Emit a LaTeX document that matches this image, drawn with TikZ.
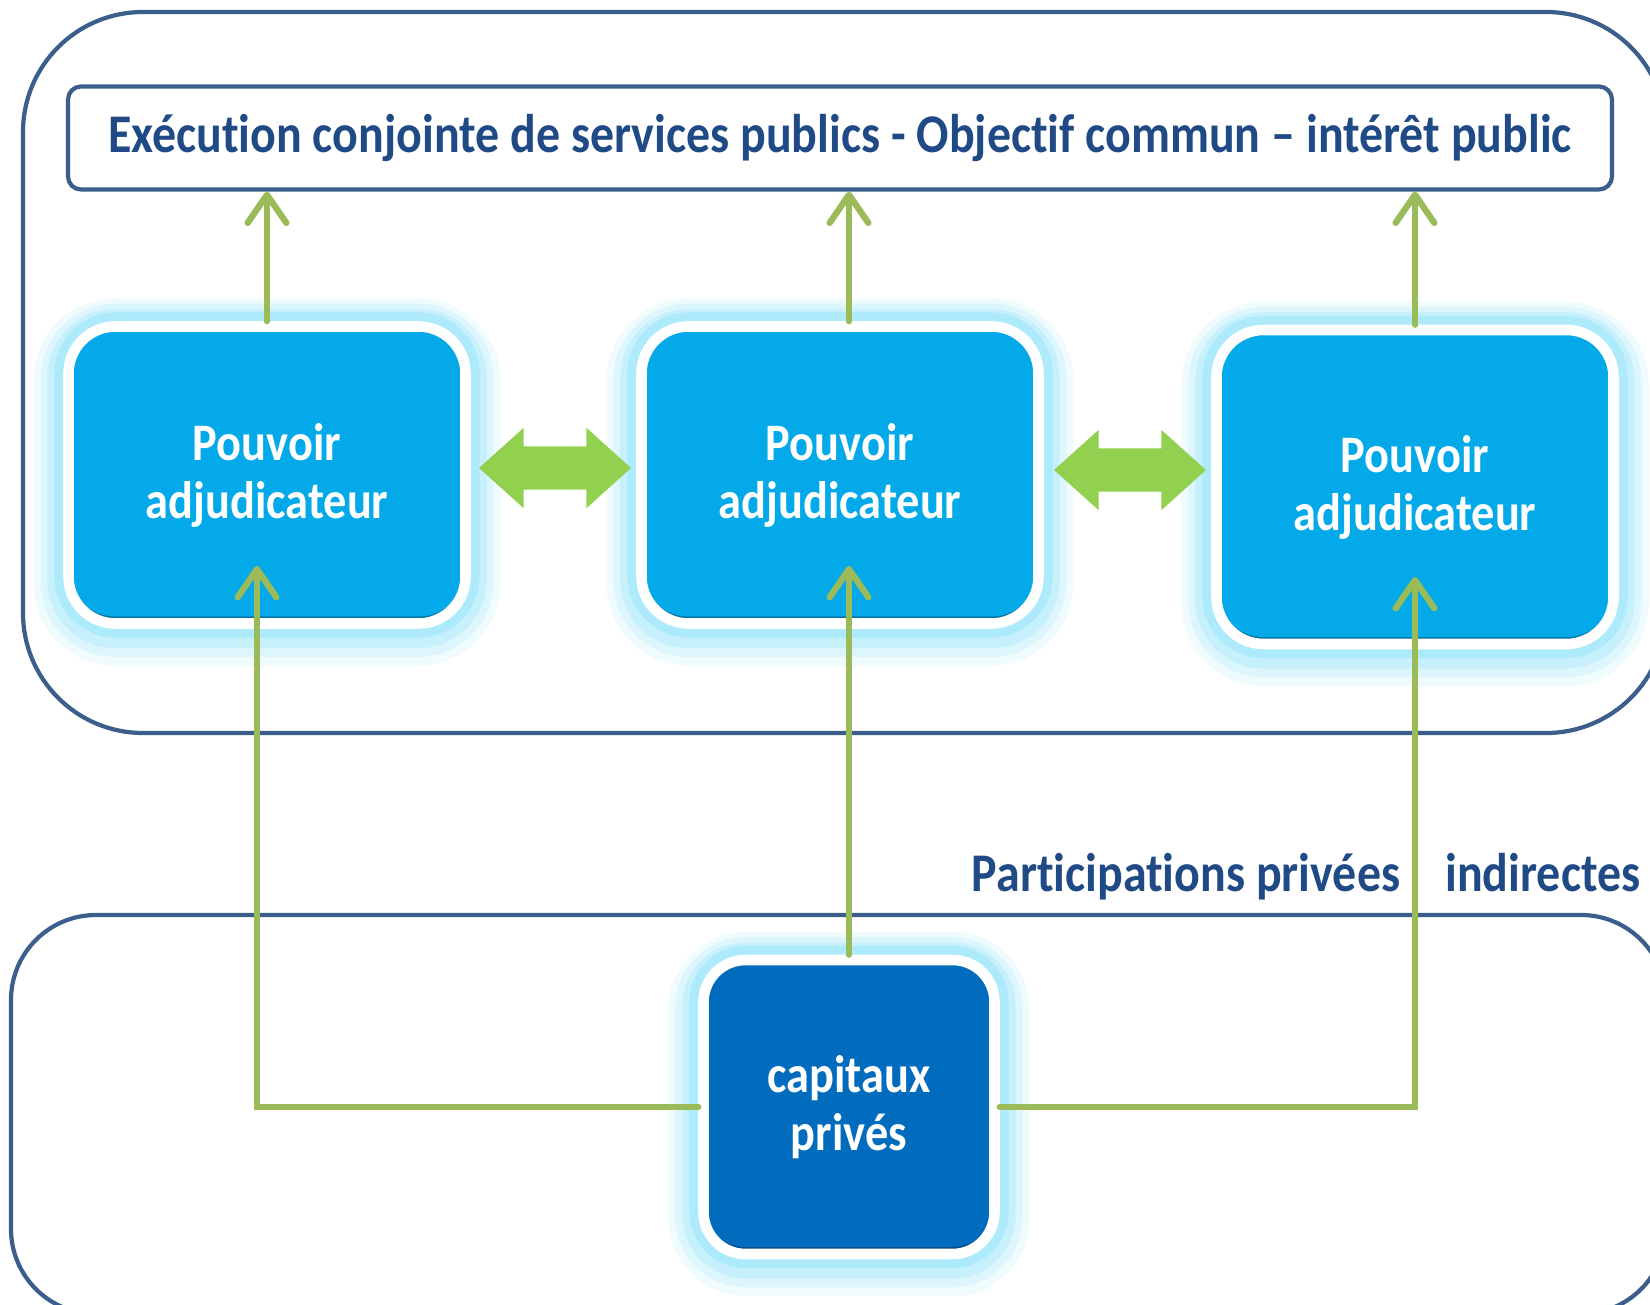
\documentclass[tikz,border=0pt]{standalone}
\usepackage{fontspec}
\setmainfont{Carlito}[FakeStretch=0.88,Ligatures=NoCommon]
\usetikzlibrary{arrows.meta,shapes.arrows,calc}

\definecolor{framecol}{HTML}{3B5E8C}
\definecolor{titleblue}{HTML}{1F4A85}
\definecolor{boxblue}{HTML}{03A9E8}
\definecolor{capblue}{HTML}{016CBE}
\definecolor{glowcol}{HTML}{9EE6FA}
\definecolor{linkgreen}{HTML}{9BBB59}
\definecolor{arrgreen}{HTML}{92D050}

\begin{document}
\begin{tikzpicture}[
  frame/.style={draw=framecol,line width=1.2pt},
  glow/.style={preaction={draw=glowcol!15,line width=20pt,transform canvas={yshift=-2pt}},
               preaction={draw=glowcol!35,line width=16pt,transform canvas={yshift=-1.5pt}},
               preaction={draw=glowcol!60,line width=12pt,transform canvas={yshift=-1pt}},
               preaction={draw=glowcol!85,line width=8pt}},
  pouvoir/.style={glow,draw=white,line width=3pt,fill=boxblue,rounded corners=0.47cm,
                  minimum width=3.97cm,minimum height=2.97cm,align=center,text=white,
                  font=\fontsize{15}{16.5}\selectfont\bfseries,
                  path picture={\fill[boxblue!70!black] (path picture bounding box.south west) rectangle (path picture bounding box.north east);
                    \fill[boxblue,rounded corners=0.47cm] ($(path picture bounding box.south west)+(0,0.07)$) rectangle ($(path picture bounding box.north east)+(0,0.07)$);}},
  capitaux/.style={pouvoir,fill=capblue,rounded corners=0.42cm,minimum width=2.91cm,minimum height=2.94cm,
                  path picture={\fill[capblue!70!black] (path picture bounding box.south west) rectangle (path picture bounding box.north east);
                    \fill[capblue,rounded corners=0.42cm] ($(path picture bounding box.south west)+(0,0.07)$) rectangle ($(path picture bounding box.north east)+(0,0.07)$);}},
  dblarrow/.style={double arrow,fill=arrgreen,inner xsep=0pt,inner ysep=0.21cm,minimum height=1.52cm,
                   double arrow head extend=0.185cm,double arrow tip angle=84},
  link/.style={draw=linkgreen,line width=1.8pt,line cap=round,-{Straight Barb[length=8pt,width=11pt,round]}},
  lbl/.style={text=titleblue,font=\fontsize{15.5}{17}\selectfont\bfseries}
]
  \useasboundingbox (0,0) rectangle (16.5,-13.05);
  \clip (0,0) rectangle (16.5,-13.05);

  % frames
  \draw[frame,rounded corners=1.2cm] (0.23,-0.12) rectangle (16.66,-7.33);
  \draw[frame,rounded corners=0.85cm] (0.11,-9.15) rectangle (16.66,-13.14);

  \node[frame,rounded corners=0.13cm,minimum width=15.44cm,minimum height=1.03cm,lbl] (goal) at (8.40,-1.38)
    {Exécution conjointe de services publics - Objectif commun – intérêt public};

  \node[pouvoir] (pa1) at (2.67,-4.75) {Pouvoir\\adjudicateur};
  \node[pouvoir] (pa2) at (8.40,-4.75) {Pouvoir\\adjudicateur};
  \node[pouvoir,minimum height=3.14cm] (pa3) at (14.15,-4.87) {Pouvoir\\adjudicateur};
  \node[capitaux] (cp) at (8.49,-11.07) {capitaux\\privés};

  \node[dblarrow] (ar12) at (5.55,-4.68) {};
  \node[dblarrow] (ar23) at (11.30,-4.70) {};

  \node[lbl] (part) at (13.06,-8.77) {Participations privées\hspace{0.45cm}indirectes};

  % up to the goal
  \draw[link] (pa1.north) -- (pa1.north |- goal.south);
  \draw[link] (pa2.north -| cp.north) -- (goal.south -| cp.north);
  \draw[link] (pa3.north) -- (pa3.north |- goal.south);

  % private capital
  \coordinate (in1) at (2.57,-5.66);
  \coordinate (in2) at (8.49,-5.66);
  \coordinate (in3) at (14.15,-5.77);
  \draw[link] (cp.west) -| (in1);
  \draw[link] (cp.north) -- (in2);
  \draw[link] (cp.east) -| (in3);
\end{tikzpicture}
\end{document}
